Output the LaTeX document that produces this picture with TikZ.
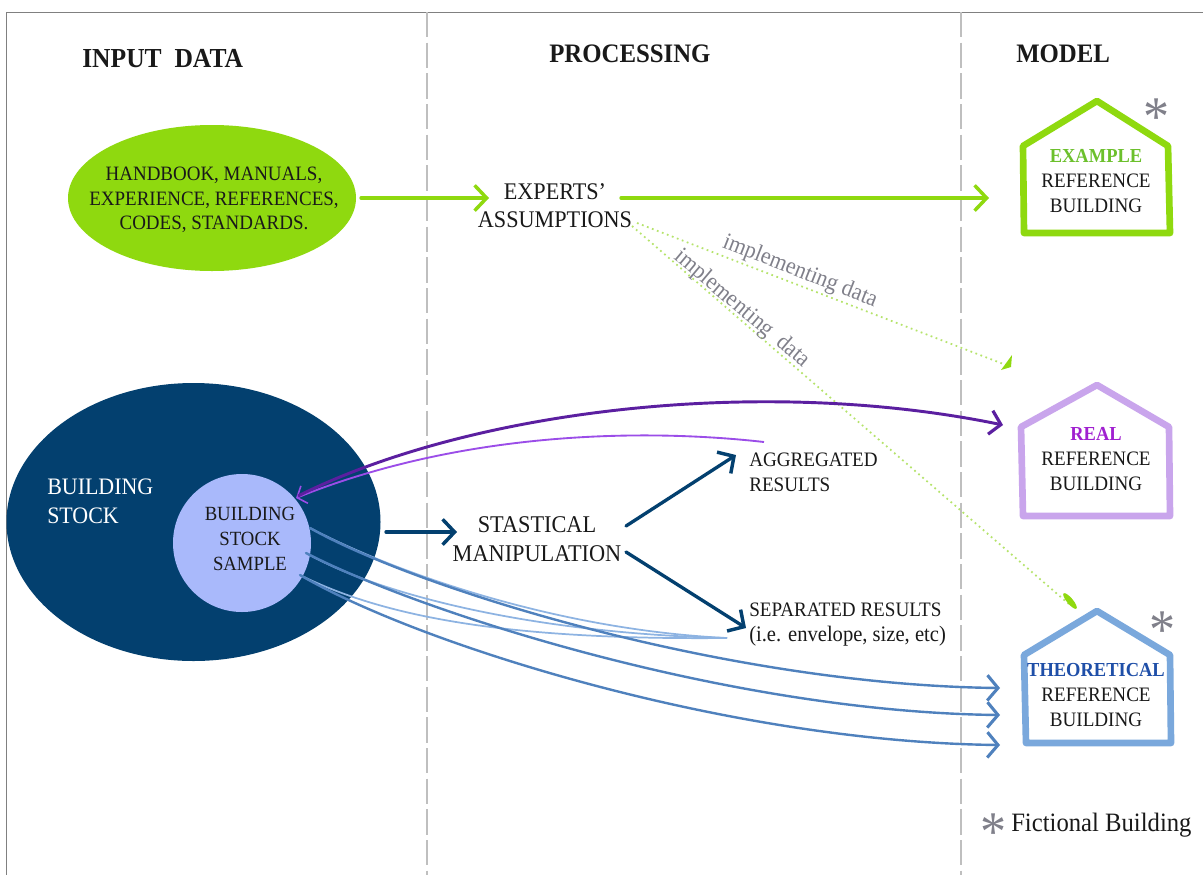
\documentclass[tikz,border=0pt]{standalone}
\usepackage{fontspec}
\setmainfont[FakeStretch=0.93]{Liberation Serif}
\usetikzlibrary{arrows.meta,shapes.geometric}
\definecolor{navy}{HTML}{03406F}
\definecolor{limec}{HTML}{8FD90F}
\definecolor{limeb}{HTML}{B5E36A}
\definecolor{lilac}{HTML}{A9B9FB}
\definecolor{skyb}{HTML}{7AA8DC}
\definecolor{steel}{HTML}{4F81BD}
\definecolor{palebl}{HTML}{8DB3E2}
\definecolor{viol}{HTML}{5B1FA0}
\definecolor{violb}{HTML}{9B4DE8}
\definecolor{lav}{HTML}{C9A5EC}
\definecolor{sepc}{HTML}{BFBFBF}
\definecolor{gtxt}{HTML}{6CC02C}
\definecolor{btxt}{HTML}{1F4FA8}
\definecolor{ptxt}{HTML}{A020D0}
\definecolor{grc}{HTML}{80808A}
\newcommand{\hlab}[2]{\textcolor{#1}{\fontsize{14.9}{18.75}\selectfont\bfseries #2}}
\tikzset{
 x=0.75pt,y=-0.75pt,
 txt/.style={inner sep=0,align=center,text=black!90},
 headt/.style={txt,font=\fontsize{20}{22}\selectfont\bfseries},
 bodyt/.style={txt,font=\fontsize{15.3}{18.6}\selectfont},
 smallt/.style={txt,font=\fontsize{15.4}{18.75}\selectfont},
 bigt/.style={txt,font=\fontsize{18}{21.75}\selectfont},
 housep/.style={line width=5pt,line join=round},
 sepl/.style={sepc,line width=0.9pt,dash pattern=on 19pt off 4pt},
 arr/.style={-{Straight Barb[length=9pt,width=19pt,line width=2.6pt]},line width=2.5pt,line cap=round},
 tharr/.style={-{Straight Barb[length=8pt,width=19pt,line width=2.3pt]},line width=1.8pt,steel,line cap=round},
 dotl/.style={limeb,line width=1.3pt,dash pattern=on 1.3pt off 2.7pt},
 stard/.style={txt,text=grc,font=\fontsize{42}{42}\selectfont},
 implt/.style={txt,text=grc,font=\fontsize{17.7}{18}\selectfont},
 palel/.style={palebl,line width=1.3pt},
}
\begin{document}
\begin{tikzpicture}
\useasboundingbox (0,0) rectangle (1203,875);
\fill[white] (0,0) rectangle (1203,875);
\coordinate (tl) at (6,12); \coordinate (tr) at (1203,12); \coordinate (bl) at (6,875);
\draw[gray,line width=0.6pt] (tr) -- (tl) -- (bl);
\coordinate (s1a) at (427,12); \coordinate (s1b) at (427,875);
\coordinate (s2a) at (961,12); \coordinate (s2b) at (961,875);
\draw[sepl] (s1a) -- (s1b);
\draw[sepl] (s2a) -- (s2b);
% headings
\node[headt,font=\fontsize{20.6}{22}\selectfont\bfseries,anchor=west] (h1) at (82,59) {INPUT\ \ DATA};
\node[headt,anchor=west] (h2) at (549,54) {PROCESSING};
\node[headt,anchor=west] (h3) at (1016,54) {MODEL};
% ellipses
\fill[limec] (212,198) ellipse [x radius=144,y radius=73];
\node[bodyt] (src) at (214,200) {HANDBOOK, MANUALS,\\EXPERIENCE, REFERENCES,\\CODES, STANDARDS.};
\fill[navy] (193.5,522) ellipse [x radius=187,y radius=139];
\fill[lilac] (242,543) ellipse [x radius=69,y radius=69];
\node[txt,text=white,font=\fontsize{17.7}{22}\selectfont,align=left,anchor=west] (stock) at (47,501) {BUILDING\\STOCK};
\node[bodyt,font=\fontsize{15.1}{18.8}\selectfont] (sample) at (250,539) {BUILDING\\STOCK\\SAMPLE};
% texts
\node[bigt,font=\fontsize{17.9}{21}\selectfont] (exp) at (555,206) {EXPERTS’\\ASSUMPTIONS};
\node[bigt] (stat) at (537,539) {STASTICAL\\MANIPULATION};
\node[smallt,align=left,anchor=west] (agg) at (749,472) {AGGREGATED\\RESULTS};
\node[smallt,align=left,anchor=west] (sepr) at (749,625) {SEPARATED RESULTS\\{\fontsize{16.6}{18.75}\selectfont (i.e. envelope, size, etc)}};
% houses
\draw[housep,limec] (1097,101) -- (1168,146) -- (1170,233) -- (1024,233) -- (1023,146) -- cycle;
\draw[housep,lav] (1097,385) -- (1169,427) -- (1170,516) -- (1023,516) -- (1021,427) -- cycle;
\draw[housep,skyb] (1097,611) -- (1170,655) -- (1171,743) -- (1026,743) -- (1024,655) -- cycle;
\node[smallt] (m1) at (1096,181) {\hlab{gtxt}{EXAMPLE}\\REFERENCE\\BUILDING};
\node[smallt] (m2) at (1096,459) {\hlab{ptxt}{REAL}\\REFERENCE\\BUILDING};
\node[smallt] (m3) at (1096,695) {\hlab{btxt}{THEORETICAL}\\REFERENCE\\BUILDING};
% stars
\node[stard] (st1) at (1157,117) {*};
\node[stard] (st2) at (1163,630) {*};
\node[stard] (st3) at (994,832) {*};
\node[txt,font=\fontsize{19.9}{22}\selectfont,anchor=west] (fic) at (1011,825) {Fictional Building};
% green arrows
\coordinate (a1s) at (361,198); \coordinate (a1e) at (489,198);
\coordinate (a2s) at (621,198);\coordinate (a2e) at (989,198);
\draw[arr,limec] (a1s) -- (a1e);
\draw[arr,limec] (a2s) -- (a2e);
% dotted
\coordinate (d0a) at (637,223); \coordinate (d1) at (1006,365);
\coordinate (d0b) at (632,226); \coordinate (d2) at (1070,605);
\draw[dotl] (d0a) -- (d1);
\draw[dotl] (d0b) -- (d2);
\fill[limec] (1012,355) -- (1011,367) -- (1001,370) -- cycle;
\fill[limec,rotate around={-50:(1070,601)}] (1070,601) ellipse [x radius=10,y radius=3];
\node[implt,rotate=-21.5] (i1) at (800,272) {implementing data};
\node[implt,rotate=-40] (i2) at (742,309) {implementing\ \ data};
% navy arrows
\coordinate (n1s) at (386,532); \coordinate (n1e) at (457,532);
\coordinate (n2s) at (626,526); \coordinate (n2e) at (736,455);
\coordinate (n3s) at (626,552); \coordinate (n3e) at (746,628);
\draw[arr,navy] (n1s) -- (n1e);
\draw[arr,navy] (n2s) -- (n2e);
\draw[arr,navy] (n3s) -- (n3e);
% purple
\coordinate (p1s) at (764,442); \coordinate (p1e) at (296,498);
\coordinate (p2s) at (298,496); \coordinate (p2e) at (1003,425);
\draw[violb,line width=1.4pt,-{Straight Barb[length=6pt,width=14pt,line width=1.2pt]}] (p1s) .. controls (640,428) and (460,432) .. (p1e);
\draw[viol,line width=2.2pt,-{Straight Barb[length=8pt,width=18pt,line width=2.4pt]}] (p2s) .. controls (470,410) and (760,375) .. (p2e);
% pale curves
\coordinate (pe) at (727,638);
\coordinate (c1) at (310,528); \coordinate (c2) at (306,553); \coordinate (c3) at (300,575);
\draw[palel] (c1) .. controls (400,575) and (560,630) .. (pe);
\draw[palel] (c2) .. controls (390,600) and (550,634) .. (pe);
\draw[palel] (c3) .. controls (390,620) and (520,640) .. (pe);
% steel curves
\coordinate (e1) at (1000,688); \coordinate (e2) at (1000,715); \coordinate (e3) at (1000,745);
\draw[tharr] (c1) .. controls (420,590) and (730,685) .. (e1);
\draw[tharr] (c2) .. controls (420,612) and (730,712) .. (e2);
\draw[tharr] (c3) .. controls (420,645) and (730,742) .. (e3);
\end{tikzpicture}
\end{document}
